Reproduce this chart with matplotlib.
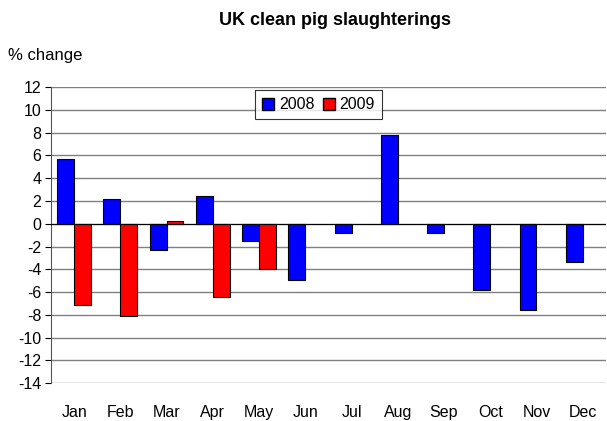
import matplotlib
matplotlib.use("Agg")
import numpy as np
import matplotlib.pyplot as plt
from matplotlib.patches import Patch

plt.rcParams["font.family"] = ["Liberation Sans", "DejaVu Sans"]
plt.rcParams["axes.unicode_minus"] = False

months = ["Jan", "Feb", "Mar", "Apr", "May", "Jun",
          "Jul", "Aug", "Sep", "Oct", "Nov", "Dec"]
y2008 = [5.7, 2.2, -2.3, 2.4, -1.5, -4.9, -0.8, 7.8, -0.8, -5.8, -7.6, -3.4]
y2009 = [-7.1, -8.1, 0.2, -6.4, -4.0]

fig = plt.figure(figsize=(6.07, 4.21), dpi=100)
ax = fig.add_axes([0.084, 0.09, 0.914, 0.703])

x = np.arange(len(months))
w = 0.365
ax.bar(x - w / 2, y2008, w, color="#0000ff", edgecolor="black", linewidth=0.8, zorder=3)
ax.bar(x[:len(y2009)] + w / 2, y2009, w, color="#ff0000", edgecolor="black", linewidth=0.8, zorder=3)

ax.set_xlim(-0.5, 11.5)
ax.set_ylim(-14, 12)
ax.set_yticks(range(-14, 13, 2))
ax.set_xticks(x)
ax.set_xticklabels(months)
ax.tick_params(axis="x", length=0, pad=16, labelsize=11.5)
ax.tick_params(axis="y", length=4, width=0.8, labelsize=11.5, pad=3)
ax.yaxis.grid(True, color="#808080", linewidth=1.0, zorder=0)
ax.axhline(0, color="black", linewidth=0.8, zorder=4)
for s in ["top", "right", "bottom"]:
    ax.spines[s].set_visible(False)
ax.spines["left"].set_color("#555555")

handles = [Patch(facecolor="#0000ff", edgecolor="black", label="2008"),
           Patch(facecolor="#ff0000", edgecolor="black", label="2009")]
leg = ax.legend(handles=handles, loc="upper left", bbox_to_anchor=(0.368, 0.99),
                ncol=2, frameon=True, fancybox=False, fontsize=11.5,
                handlelength=0.75, handleheight=0.75, handletextpad=0.3,
                columnspacing=0.5, borderpad=0.45, borderaxespad=0)
leg.get_frame().set_edgecolor("black")
leg.get_frame().set_linewidth(0.8)

fig.text(0.552, 0.952, "UK clean pig slaughterings", ha="center", va="center",
         fontsize=13, fontweight="bold")
fig.text(0.014, 0.868, "% change", ha="left", va="center", fontsize=12)

fig.savefig("out.png", dpi=100)
